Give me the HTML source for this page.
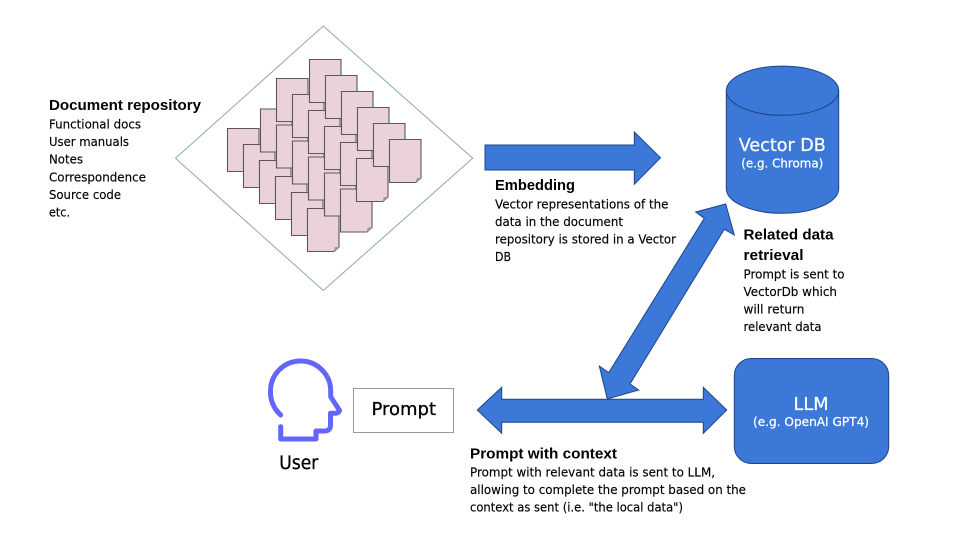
<!DOCTYPE html>
<html lang="en">
<head>
<meta charset="utf-8">
<title>Diagram</title>
<style>
html,body{margin:0;padding:0;background:#fff;width:960px;height:540px;overflow:hidden}
svg{display:block}
.b{font-family:"DejaVu Sans",sans-serif;font-size:12px;fill:#000;stroke:#000;stroke-width:.15px}
.h{font-family:"Liberation Sans",sans-serif;font-size:15px;font-weight:bold;fill:#000}
.u{font-family:"DejaVu Sans",sans-serif;fill:#000;stroke:#000;stroke-width:.3px}
.w{font-family:"DejaVu Sans",sans-serif;fill:#fff;stroke:#fff;stroke-width:.25px;text-anchor:middle}
</style>
</head>
<body>
<svg width="960" height="540" viewBox="0 0 960 540" xmlns="http://www.w3.org/2000/svg">
<defs>
<g id="d">
<path d="M0 0H31.5V38.5L26.5 43H0Z" fill="#ead1dc" stroke="#595959" stroke-width="1.1"/>
<path d="M26.5 43L27.5 39L31.5 38.5Z" fill="#a89ca2" stroke="#8a8a8a" stroke-width=".5"/>
</g>
</defs>
<rect width="960" height="540" fill="#fff"/>

<polygon points="175.5,158.3 323.3,26 472.7,158.3 323.3,290.5" fill="#fff" stroke="#8ea6b4" stroke-width="1"/>

<!-- row D -->
<use href="#d" x="227.5" y="128.5"/><use href="#d" x="243.5" y="144.5"/><use href="#d" x="259.5" y="160.5"/><use href="#d" x="275.5" y="176.5"/><use href="#d" x="291.5" y="192.5"/><use href="#d" x="307.5" y="208.5"/>
<!-- row C -->
<use href="#d" x="260.5" y="109"/><use href="#d" x="276.5" y="125"/><use href="#d" x="292.5" y="141"/><use href="#d" x="308.5" y="157"/><use href="#d" x="324.5" y="173"/><use href="#d" x="340.5" y="189"/>
<!-- row B -->
<use href="#d" x="276.5" y="78.5"/><use href="#d" x="292.5" y="94.5"/><use href="#d" x="308.5" y="110.5"/><use href="#d" x="324.5" y="126.5"/><use href="#d" x="340.5" y="142.5"/><use href="#d" x="356.5" y="158.5"/>
<!-- row A -->
<use href="#d" x="309.5" y="59.5"/><use href="#d" x="325.5" y="75.5"/><use href="#d" x="341.5" y="91.5"/><use href="#d" x="357.5" y="107.5"/><use href="#d" x="373.5" y="123.5"/><use href="#d" x="389.5" y="139.5"/>

<!-- embedding arrow -->
<polygon points="485,145 634.3,145 634.3,132 660.5,157.7 634.3,184.3 634.3,170 485,170" fill="#3c78d8" stroke="#1c4587" stroke-width="1"/>

<!-- cylinder -->
<path d="M726.3 90.7V188.7A56.2 24.6 0 0 0 838.7 188.7V90.7A56.2 24.6 0 0 0 726.3 90.7Z" fill="#3c78d8" stroke="#1c4587" stroke-width="1"/>
<path d="M726.3 90.7A56.2 24.6 0 0 0 838.7 90.7" fill="none" stroke="#1c4587" stroke-width="1"/>
<text class="w" x="782.3" y="151" font-size="18" textLength="87" lengthAdjust="spacingAndGlyphs">Vector DB</text>
<text class="w" x="782.3" y="167.7" font-size="12" textLength="82" lengthAdjust="spacingAndGlyphs">(e.g. Chroma)</text>

<!-- diagonal arrow -->
<polygon points="725.7,204 734.3,235 724.3,229.3 630,384 638.7,390 607.3,399 599.3,366 608.7,372.7 704.3,218.3 695.7,212" fill="#3c78d8" stroke="#1c4587" stroke-width="1"/>

<!-- horizontal arrow -->
<polygon points="477.3,410 501.7,387.3 501.7,399.3 703.3,399.3 703.3,387.3 726.7,410 703.3,433.3 703.3,422.3 501.7,422.3 501.7,433.3" fill="#3c78d8" stroke="#1c4587" stroke-width="1"/>

<!-- LLM -->
<rect x="734.3" y="358.5" width="154.4" height="105" rx="17" ry="17" fill="#3c78d8" stroke="#1c4587" stroke-width="1"/>
<text class="w" x="811" y="410" font-size="18" textLength="35" lengthAdjust="spacingAndGlyphs">LLM</text>
<text class="w" x="811" y="426" font-size="12" textLength="116" lengthAdjust="spacingAndGlyphs">(e.g. OpenAI GPT4)</text>

<!-- prompt box -->
<rect x="353.5" y="388.5" width="100" height="44" fill="#fff" stroke="#999" stroke-width="1"/>
<text class="u" x="371.5" y="415" font-size="17.5" textLength="64.5" lengthAdjust="spacingAndGlyphs">Prompt</text>

<!-- user icon -->
<path d="M280.7 415A30.5 30.5 0 0 1 270.5 391A30 30 0 0 1 300.5 361A30 30 0 0 1 330.7 391V396.7L339.5 410.5Q338.5 413.3 335 413.3H330.5V425Q330.5 431 324.5 431H316V439H280.7V426.7" fill="none" stroke="#6366f9" stroke-width="5" stroke-linecap="round" stroke-linejoin="round"/>
<text class="u" x="279.3" y="469" font-size="18.5" textLength="39" lengthAdjust="spacingAndGlyphs">User</text>

<!-- document repository text -->
<text class="h" x="49" y="110" textLength="152" lengthAdjust="spacingAndGlyphs">Document repository</text>
<text class="b" x="49" y="128.5" textLength="92" lengthAdjust="spacingAndGlyphs">Functional docs</text>
<text class="b" x="49" y="146" textLength="80" lengthAdjust="spacingAndGlyphs">User manuals</text>
<text class="b" x="49" y="163.7" textLength="34" lengthAdjust="spacingAndGlyphs">Notes</text>
<text class="b" x="49" y="181.3" textLength="97" lengthAdjust="spacingAndGlyphs">Correspondence</text>
<text class="b" x="49" y="198.9" textLength="72" lengthAdjust="spacingAndGlyphs">Source code</text>
<text class="b" x="49" y="216.5" textLength="21" lengthAdjust="spacingAndGlyphs">etc.</text>

<!-- embedding text -->
<text class="h" x="495" y="190" textLength="80" lengthAdjust="spacingAndGlyphs">Embedding</text>
<text class="b" x="495" y="208.3" textLength="173.5" lengthAdjust="spacingAndGlyphs">Vector representations of the</text>
<text class="b" x="495" y="225.8" textLength="128" lengthAdjust="spacingAndGlyphs">data in the document</text>
<text class="b" x="495" y="243.3" textLength="181" lengthAdjust="spacingAndGlyphs">repository is stored in a Vector</text>
<text class="b" x="495" y="260.8" textLength="16" lengthAdjust="spacingAndGlyphs">DB</text>

<!-- related text -->
<text class="h" x="743.5" y="239.3" textLength="90" lengthAdjust="spacingAndGlyphs">Related data</text>
<text class="h" x="743.5" y="260" textLength="60" lengthAdjust="spacingAndGlyphs">retrieval</text>
<text class="b" x="743.5" y="278.3" textLength="101" lengthAdjust="spacingAndGlyphs">Prompt is sent to</text>
<text class="b" x="743.5" y="295.8" textLength="93.5" lengthAdjust="spacingAndGlyphs">VectorDb which</text>
<text class="b" x="743.5" y="313.3" textLength="61" lengthAdjust="spacingAndGlyphs">will return</text>
<text class="b" x="743.5" y="330.8" textLength="78" lengthAdjust="spacingAndGlyphs">relevant data</text>

<!-- prompt context text -->
<text class="h" x="470" y="458.3" textLength="147" lengthAdjust="spacingAndGlyphs">Prompt with context</text>
<text class="b" x="470" y="476.7" textLength="245" lengthAdjust="spacingAndGlyphs">Prompt with relevant data is sent to LLM,</text>
<text class="b" x="470" y="494.2" textLength="276" lengthAdjust="spacingAndGlyphs">allowing to complete the prompt based on the</text>
<text class="b" x="470" y="511.7" textLength="213" lengthAdjust="spacingAndGlyphs">context as sent (i.e. "the local data")</text>
</svg>
</body>
</html>
